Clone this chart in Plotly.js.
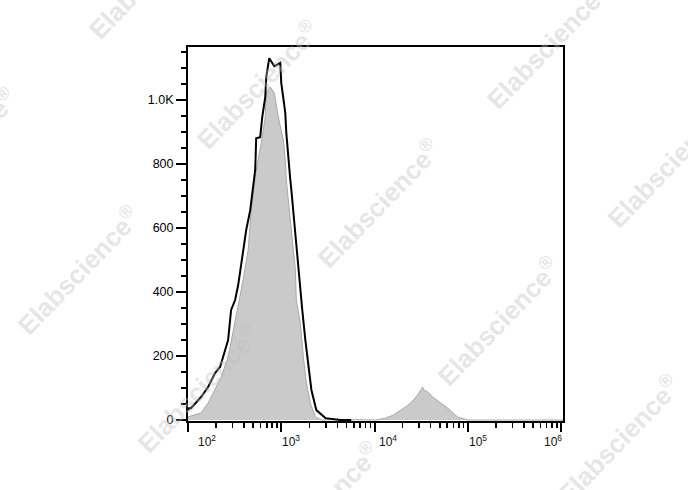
<!DOCTYPE html>
<html>
<head>
<meta charset="utf-8">
<script src="https://cdn.plot.ly/plotly-3.0.1.min.js"></script>
<style>html,body{margin:0;padding:0;background:#fff;}#chart{width:688px;height:490px;}</style>
</head>
<body>
<div id="chart"></div>
<script>
// Filled grey histogram: log10(channel) and counts
const greyLog = [2.0, 2.022, 2.075, 2.140, 2.215, 2.290, 2.355, 2.430, 2.505, 2.570, 2.591, 2.645, 2.677, 2.731, 2.785, 2.828, 2.839, 2.882, 2.925, 2.968, 3.022, 3.043, 3.054, 3.097, 3.151, 3.161, 3.204, 3.237, 3.269, 3.312, 3.366, 3.44, 3.6, 3.8, 4.011, 4.118, 4.204, 4.312, 4.387, 4.462, 4.516, 4.527, 4.570, 4.624, 4.710, 4.785, 4.892, 5.0, 5.3, 6.02];
const greyCount = [10, 12, 16, 22, 53, 94, 134, 197, 303, 406, 438, 531, 656, 781, 866, 947, 1022, 1041, 1022, 947, 875, 812, 750, 625, 469, 375, 303, 197, 116, 53, 9, 0, 2, 1, 0, 6, 16, 37, 53, 78, 103, 94, 88, 72, 53, 37, 9, 0, 0, 0];
// Black outline histogram
const blackLog = [2.0, 2.011, 2.032, 2.086, 2.140, 2.215, 2.290, 2.344, 2.398, 2.430, 2.462, 2.505, 2.538, 2.591, 2.624, 2.667, 2.720, 2.725, 2.731, 2.774, 2.796, 2.828, 2.839, 2.871, 2.925, 2.989, 3.000, 3.032, 3.043, 3.054, 3.075, 3.097, 3.108, 3.151, 3.183, 3.215, 3.225, 3.258, 3.290, 3.323, 3.376, 3.473, 3.634, 3.75];
const blackCount = [30, 37, 37, 53, 72, 103, 147, 166, 219, 250, 344, 375, 422, 531, 594, 656, 781, 822, 881, 884, 947, 1009, 1072, 1131, 1106, 1116, 1053, 984, 959, 897, 812, 750, 719, 572, 469, 375, 344, 250, 178, 94, 31, 6, 0, 0];
// Axis ticks
const xTickVals = [1e2, 1e3, 1e4, 1e5, 1e6];
const xTickText = ['10<sup>2</sup>', '10<sup>3</sup>', '10<sup>4</sup>', '10<sup>5</sup>', '10<sup>6</sup>'];
const yTickVals = [0, 200, 400, 600, 800, 1000];
const yTickText = ['0', '200', '400', '600', '800', '1.0K'];
const watermarkText = 'Elabscience<sup>®</sup>';

const xLabelShift = [19, 10, 13, 10, -8];
// watermark centres in page pixels
const wmCenters = [[150, -25], [258, 85], [378, 203], [498, 321], [618, 439], [548, 45], [668, 163], [-45, 152], [78, 270], [198, 388], [318, 506]];

const M = {l: 188, r: 125, t: 47, b: 69};
const W = 688, H = 490;
const pw = W - M.l - M.r, ph = H - M.t - M.b;

const toVal = a => a.map(v => Math.pow(10, v));

const traces = [
  {x: toVal(greyLog), y: greyCount, type: 'scatter', mode: 'lines', fill: 'tozeroy',
   fillcolor: 'rgb(202,202,202)', line: {color: 'rgb(168,168,168)', width: 1}, hoverinfo: 'skip'},
  {x: toVal(blackLog), y: blackCount, type: 'scatter', mode: 'lines',
   line: {color: '#000', width: 2}, hoverinfo: 'skip'}
];

const annotations = [];
xTickVals.forEach((v, i) => annotations.push({
  x: Math.log10(v), xref: 'x', y: 0, yref: 'paper', yanchor: 'top', yshift: -10, xshift: xLabelShift[i],
  text: xTickText[i], showarrow: false, font: {family: 'Arial, Liberation Sans', size: 12, color: '#111'}
}));
wmCenters.forEach(c => annotations.push({
  x: (c[0] - M.l) / pw, y: (H - M.b - c[1]) / ph, xref: 'paper', yref: 'paper', xanchor: 'center', yanchor: 'middle',
  text: '<b>' + watermarkText + '</b>', showarrow: false, textangle: -46,
  font: {family: 'Liberation Sans, Arial', size: 26, color: 'rgba(190,190,190,0.40)'}
}));

const layout = {
  width: W, height: H,
  margin: M,
  paper_bgcolor: '#fff', plot_bgcolor: '#fff',
  showlegend: false,
  xaxis: {
    type: 'log', range: [2, 6.02], showgrid: false, zeroline: false,
    showline: true, linecolor: '#000', linewidth: 2, mirror: true,
    tickmode: 'array', tickvals: xTickVals, ticktext: xTickVals.map(() => ''),
    ticks: 'outside', ticklen: 9, tickwidth: 2, tickcolor: '#000',
    minor: {ticks: 'outside', dtick: 'D1', ticklen: 5, tickwidth: 1.5, tickcolor: '#000', showgrid: false}
  },
  yaxis: {
    range: [-3, 1166], showgrid: false, zeroline: false,
    showline: true, linecolor: '#000', linewidth: 2, mirror: true,
    tickmode: 'array', tickvals: yTickVals, ticktext: yTickText,
    ticks: 'outside', ticklen: 10, tickwidth: 2, tickcolor: '#000',
    tickfont: {family: 'Arial, Liberation Sans', size: 12.5, color: '#000'},
    minor: {ticks: 'outside', dtick: 50, ticklen: 5, tickwidth: 1.5, tickcolor: '#000', showgrid: false}
  },
  annotations: annotations
};

Plotly.newPlot('chart', traces, layout, {displayModeBar: false, staticPlot: true});
</script>
</body>
</html>
